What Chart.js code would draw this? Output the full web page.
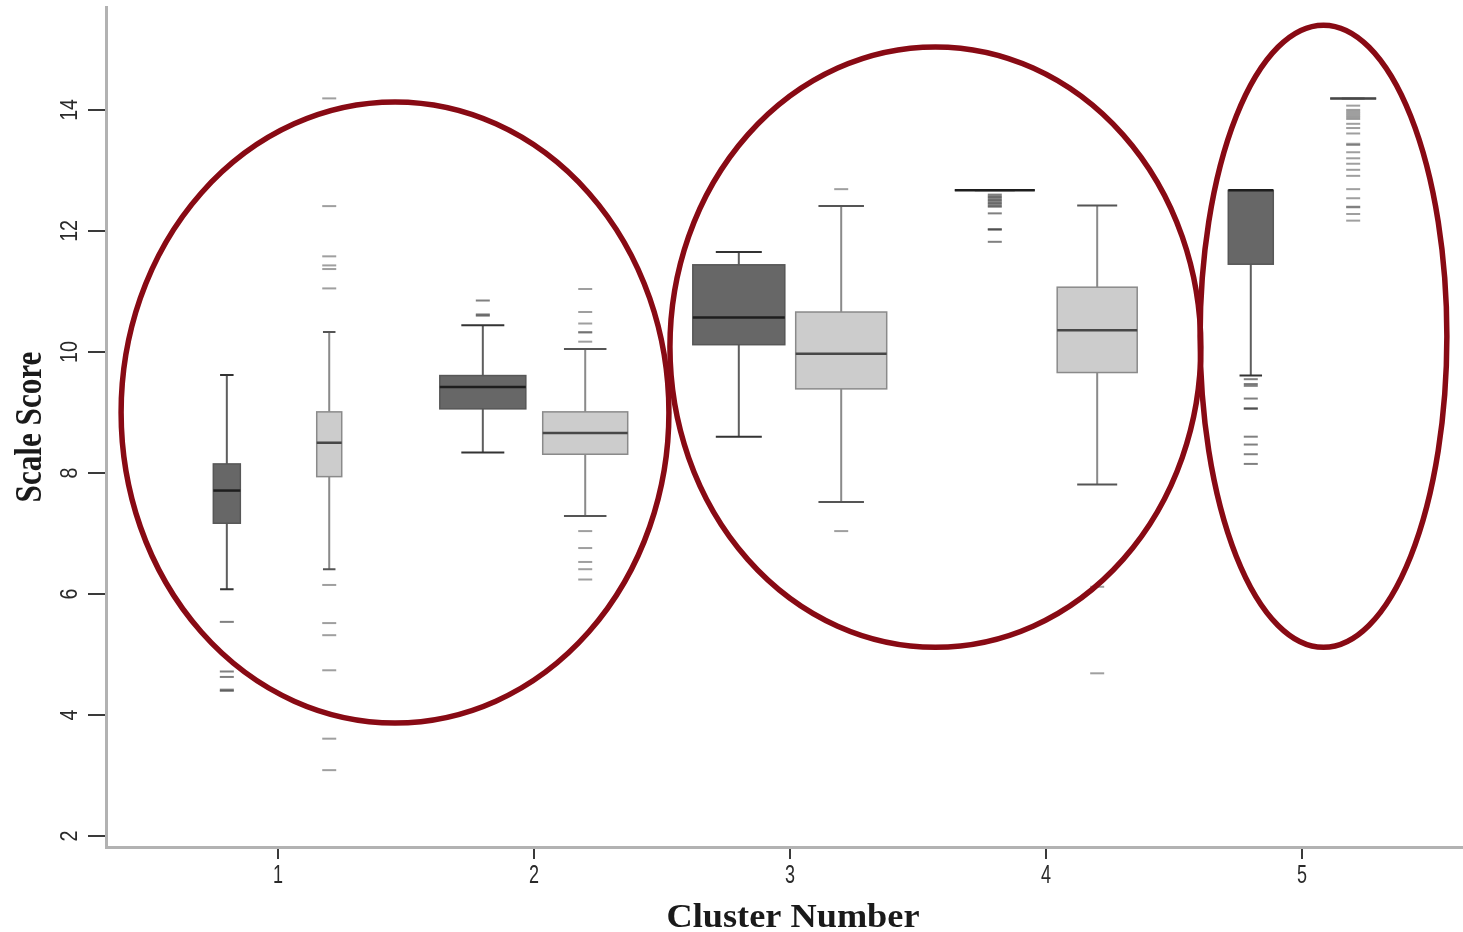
<!DOCTYPE html>
<html>
<head>
<meta charset="utf-8">
<title>Scale Score by Cluster Number</title>
<script src="https://cdn.jsdelivr.net/npm/chart.js@4.4.1/dist/chart.umd.min.js"></script>
<style>
    html, body { margin: 0; padding: 0; background: #fff; }
    #wrap { width: 1463px; height: 932px; }
</style>
</head>
<body>
<div id="wrap"><canvas id="boxChart" width="1463" height="932"></canvas></div>
<script>
// ========================
// Dados
// ========================
const clusters = [1, 2, 3, 4, 5];
const yTicks = [2, 4, 6, 8, 10, 12, 14];
const xTitle = 'Cluster Number';
const yTitle = 'Scale Score';

// Serie escura (box da esquerda em cada cluster)
const darkMin    = [6.08, 8.34, 8.60, 12.67, 9.61];
const darkQ1     = [7.17, 9.06, 10.12, 12.67, 11.45];
const darkMedian = [7.71, 9.42, 10.57, 12.67, 12.67];
const darkQ3     = [8.15, 9.61, 11.44, 12.67, 12.67];
const darkMax    = [9.62, 10.44, 11.65, 12.67, 12.67];
const darkOutliers = [
    [5.54, 4.72, 4.63, 4.42, 4.40],
    [10.85, 10.62, 10.60],
    [],
    [12.60, 12.57, 12.55, 12.52, 12.50, 12.47, 12.45, 12.42, 12.40, 12.29, 12.03, 12.02, 11.82],
    [9.55, 9.47, 9.44, 9.23, 9.07, 9.06, 8.60, 8.47, 8.31, 8.15]
];

// Serie clara (box da direita em cada cluster)
const lightMin    = [6.41, 7.29, 7.52, 7.81, 14.19];
const lightQ1     = [7.94, 8.31, 9.39, 9.66, 14.19];
const lightMedian = [8.50, 8.66, 9.97, 10.36, 14.19];
const lightQ3     = [9.01, 9.01, 10.66, 11.07, 14.19];
const lightMax    = [10.33, 10.05, 12.41, 12.42, 14.19];
const lightOutliers = [
    [14.19, 12.41, 11.58, 11.43, 11.37, 11.05, 6.15, 5.52, 5.32, 4.74, 3.61, 3.09],
    [11.04, 10.66, 10.47, 10.33, 10.32, 10.17, 7.04, 6.76, 6.53, 6.41, 6.24],
    [12.69, 7.04],
    [6.12, 4.69],
    [14.07, 14.00, 13.97, 13.94, 13.91, 13.88, 13.85, 13.77, 13.70, 13.61, 13.44, 13.42,
     13.30, 13.20, 13.11, 13.01, 12.91, 12.69, 12.54, 12.40, 12.39, 12.28, 12.17]
];

// Elipses vermelhas de destaque (em unidades dos eixos)
const ellipseCx = [1.457, 3.568, 5.084];
const ellipseCy = [9.00, 10.08, 10.26];
const ellipseRx = [1.070, 1.037, 0.482];
const ellipseRy = [5.13, 4.96, 5.14];

// ========================
// Estilos
// ========================
const series = [
    {
        offset: -0.2, min: darkMin, q1: darkQ1, med: darkMedian, q3: darkQ3, max: darkMax,
        outliers: darkOutliers, widths: [27, 86, 92, 80, 45],
        fill: '#676767', border: '#575757', whisker: '#5e5e5e', cap: '#333', median: '#1e1e1e',
        dash: 'rgba(50, 50, 50, 0.62)'
    },
    {
        offset: 0.2, min: lightMin, q1: lightQ1, med: lightMedian, q3: lightQ3, max: lightMax,
        outliers: lightOutliers, widths: [25, 85, 91, 80, 46],
        fill: '#cccccc', border: '#8a8a8a', whisker: '#8a8a8a', cap: '#555', median: '#474747',
        dash: 'rgba(80, 80, 80, 0.55)'
    }
];

const boxPlotPlugin = {
    id: 'boxPlots',
    beforeDatasetsDraw(chart) {
        const { ctx, scales: { x, y } } = chart;
        ctx.save();
        series.forEach(s => {
            clusters.forEach((c, i) => {
                const cx = x.getPixelForValue(c + s.offset);
                const half = s.widths[i] / 2;
                const pMin = y.getPixelForValue(s.min[i]);
                const pQ1 = y.getPixelForValue(s.q1[i]);
                const pMed = y.getPixelForValue(s.med[i]);
                const pQ3 = y.getPixelForValue(s.q3[i]);
                const pMax = y.getPixelForValue(s.max[i]);

                // bigodes
                ctx.strokeStyle = s.whisker;
                ctx.lineWidth = 2;
                ctx.beginPath();
                ctx.moveTo(cx, pQ1); ctx.lineTo(cx, pMin);
                ctx.moveTo(cx, pQ3); ctx.lineTo(cx, pMax);
                ctx.stroke();

                // tampas
                ctx.strokeStyle = s.cap;
                ctx.beginPath();
                ctx.moveTo(cx - half / 2, pMin); ctx.lineTo(cx + half / 2, pMin);
                ctx.moveTo(cx - half / 2, pMax); ctx.lineTo(cx + half / 2, pMax);
                ctx.stroke();

                // caixa
                ctx.fillStyle = s.fill;
                ctx.fillRect(cx - half, pQ3, half * 2, pQ1 - pQ3);
                ctx.strokeStyle = s.border;
                ctx.lineWidth = 1.5;
                ctx.strokeRect(cx - half, pQ3, half * 2, pQ1 - pQ3);

                // mediana
                ctx.strokeStyle = s.median;
                ctx.lineWidth = 2.5;
                ctx.beginPath();
                ctx.moveTo(cx - half, pMed); ctx.lineTo(cx + half, pMed);
                ctx.stroke();
            });
        });
        ctx.restore();
    },
    afterDraw(chart) {
        const { ctx, scales: { x, y } } = chart;
        ctx.save();
        ctx.fillStyle = '#2a2a2a';
        ctx.textAlign = 'center';
        ctx.textBaseline = 'middle';

        // rótulos do eixo Y (girados)
        ctx.font = '24px "Liberation Sans", Arial, sans-serif';
        yTicks.forEach(v => {
            ctx.save();
            ctx.translate(70, y.getPixelForValue(v));
            ctx.rotate(-Math.PI / 2);
            ctx.scale(0.82, 1);
            ctx.fillText(String(v), 0, 0);
            ctx.restore();
        });

        // rótulos do eixo X
        ctx.font = '25px "Liberation Sans", Arial, sans-serif';
        clusters.forEach(v => {
            ctx.save();
            ctx.translate(x.getPixelForValue(v), 876);
            ctx.scale(0.72, 1);
            ctx.fillText(String(v), 0, 0);
            ctx.restore();
        });

        // títulos
        ctx.fillStyle = '#1a1a1a';
        ctx.font = 'bold 33px "Liberation Serif", "Times New Roman", serif';
        ctx.save();
        ctx.translate(793, 918);
        ctx.scale(1.1, 1);
        ctx.fillText(xTitle, 0, 0);
        ctx.restore();

        ctx.font = 'bold 38px "Liberation Serif", "Times New Roman", serif';
        ctx.save();
        ctx.translate(31, (chart.chartArea.top + chart.chartArea.bottom) / 2);
        ctx.rotate(-Math.PI / 2);
        ctx.scale(0.82, 1);
        ctx.fillText(yTitle, 0, 0);
        ctx.restore();

        // elipses de destaque
        ctx.strokeStyle = '#880a14';
        ctx.lineWidth = 5.5;
        ellipseCx.forEach((cxv, i) => {
            const px = x.getPixelForValue(cxv);
            const py = y.getPixelForValue(ellipseCy[i]);
            const rx = x.getPixelForValue(cxv + ellipseRx[i]) - px;
            const ry = py - y.getPixelForValue(ellipseCy[i] + ellipseRy[i]);
            ctx.beginPath();
            ctx.ellipse(px, py, rx, ry, 0, 0, Math.PI * 2);
            ctx.stroke();
        });
        ctx.restore();
    }
};

// pontos atípicos como traços horizontais
const outlierDatasets = series.map(s => ({
    data: s.outliers.flatMap((vals, i) => vals.map(v => ({ x: clusters[i] + s.offset, y: v }))),
    pointStyle: 'line',
    pointRadius: 7,
    pointHoverRadius: 7,
    borderWidth: 2,
    borderColor: s.dash,
    backgroundColor: s.dash
}));

new Chart(document.getElementById('boxChart'), {
    type: 'scatter',
    data: { datasets: outlierDatasets },
    options: {
        responsive: false,
        devicePixelRatio: 1,
        animation: false,
        layout: { autoPadding: false, padding: { top: 7, right: 0, left: 0, bottom: 0 } },
        plugins: { legend: { display: false }, tooltip: { enabled: false } },
        scales: {
            x: {
                type: 'linear',
                min: 0.328,
                max: 5.629,
                afterBuildTicks: scale => { scale.ticks = clusters.map(v => ({ value: v })); },
                afterFit: scale => { scale.height = 85; },
                ticks: { display: false },
                grid: { drawOnChartArea: false, drawTicks: true, tickLength: 12, color: '#3a3a3a', lineWidth: 2 },
                border: { display: true, color: '#b2b2b2', width: 3 }
            },
            y: {
                type: 'linear',
                min: 1.82,
                max: 15.70,
                afterBuildTicks: scale => { scale.ticks = yTicks.map(v => ({ value: v })); },
                afterFit: scale => { scale.width = 106; },
                ticks: { display: false },
                grid: { drawOnChartArea: false, drawTicks: true, tickLength: 18, color: '#3a3a3a', lineWidth: 2 },
                border: { display: true, color: '#b2b2b2', width: 3 }
            }
        }
    },
    plugins: [boxPlotPlugin]
});
</script>
</body>
</html>
